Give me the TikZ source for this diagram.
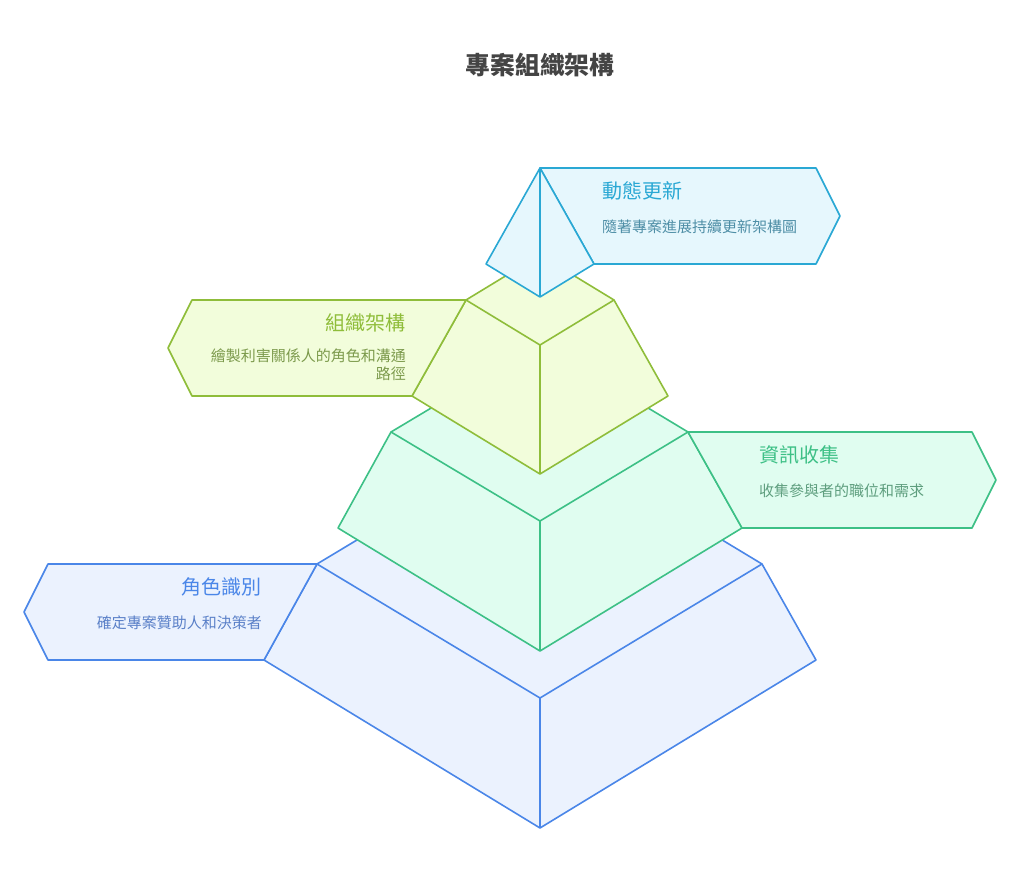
\documentclass[tikz,border=0pt]{standalone}
\usepackage{fontspec}
\setmainfont{Noto Sans CJK TC}
\definecolor{bstroke}{HTML}{4A86E8}
\definecolor{bfill}{HTML}{EBF2FE}
\definecolor{btext}{HTML}{5A80C8}
\definecolor{gstroke}{HTML}{3DC086}
\definecolor{gfill}{HTML}{E0FDF0}
\definecolor{gtext}{HTML}{5E9E7E}
\definecolor{lstroke}{HTML}{8FBD3A}
\definecolor{lfill}{HTML}{F2FDDB}
\definecolor{ltext}{HTML}{7C9A4C}
\definecolor{cstroke}{HTML}{2AA8D4}
\definecolor{cfill}{HTML}{E6F7FD}
\definecolor{ctext}{HTML}{4E8EA6}
\definecolor{titlegray}{HTML}{444444}
\tikzset{
  layer/.style={line width=1.6pt, line join=round},
  ttl/.style={inner sep=0pt, font=\fontsize{20}{22}\selectfont},
  dsc/.style={inner sep=0pt, font=\fontsize{15}{18}\selectfont, align=right},
}
\begin{document}
\begin{tikzpicture}[x=1pt,y=-1pt]
\useasboundingbox (0,0) rectangle (1020,877);
\node[font=\fontsize{24.8}{28}\selectfont\bfseries, text=titlegray, inner sep=0pt] (title) at (540,65) {專案組織架構};

% ---- Blue layer ----
\coordinate (bL) at (317,564); \coordinate (bB) at (540,430);
\coordinate (bR) at (762,564); \coordinate (bF) at (540,698);
\coordinate (bLB) at (264,660); \coordinate (bRB) at (816,660);
\coordinate (bBB) at (540,828);
\fill[bfill] (bL)--(bB)--(bR)--(bRB)--(bBB)--(bLB)--cycle;
\draw[layer, draw=bstroke] (bL)--(bB)--(bR)--(bRB)--(bBB)--(bLB)--cycle;
\draw[layer, draw=bstroke] (bL)--(bF)--(bR) (bF)--(bBB);
\draw[layer, draw=bstroke, fill=bfill] (bL)--(48,564)--(24,612)--(48,660)--(bLB)--cycle;
\node[ttl, text=bstroke, anchor=east] (bt) at (262,587) {角色識別};
\node[dsc, text=btext, anchor=east] (bd) at (262,623) {確定專案贊助人和決策者};

% ---- Green layer ----
\coordinate (gL) at (391,432); \coordinate (gB) at (540,343);
\coordinate (gR) at (688,432); \coordinate (gF) at (540,521);
\coordinate (gLB) at (338,528); \coordinate (gRB) at (742,528);
\coordinate (gBB) at (540,651);
\fill[gfill] (gL)--(gB)--(gR)--(gRB)--(gBB)--(gLB)--cycle;
\draw[layer, draw=gstroke] (gL)--(gB)--(gR)--(gRB)--(gBB)--(gLB)--cycle;
\draw[layer, draw=gstroke] (gL)--(gF)--(gR) (gF)--(gBB);
\draw[layer, draw=gstroke, fill=gfill] (gR)--(972,432)--(996,480)--(972,528)--(gRB)--cycle;
\node[ttl, text=gstroke, anchor=west] (gt) at (759,455) {資訊收集};
\node[dsc, text=gtext, anchor=west] (gd) at (759,491) {收集參與者的職位和需求};

% ---- Lime layer ----
\coordinate (lL) at (466,300); \coordinate (lB) at (540,255);
\coordinate (lR) at (614,300); \coordinate (lF) at (540,345);
\coordinate (lLB) at (412,396); \coordinate (lRB) at (668,396);
\coordinate (lBB) at (540,474);
\fill[lfill] (lL)--(lB)--(lR)--(lRB)--(lBB)--(lLB)--cycle;
\draw[layer, draw=lstroke] (lL)--(lB)--(lR)--(lRB)--(lBB)--(lLB)--cycle;
\draw[layer, draw=lstroke] (lL)--(lF)--(lR) (lF)--(lBB);
\draw[layer, draw=lstroke, fill=lfill] (lL)--(192,300)--(168,348)--(192,396)--(lLB)--cycle;
\node[ttl, text=lstroke, anchor=east] (lt) at (406,323) {組織架構};
\node[dsc, text=ltext, anchor=east] (ld) at (406,365) {繪製利害關係人的角色和溝通\\路徑};

% ---- Cyan pyramid ----
\coordinate (cA) at (540,168); \coordinate (cL) at (486,264);
\coordinate (cR) at (594,264); \coordinate (cF) at (540,297);
\draw[layer, draw=cstroke, fill=cfill] (cA)--(816,168)--(840,216)--(816,264)--(cR)--cycle;
\draw[layer, draw=cstroke, fill=cfill] (cA)--(cR)--(cF)--(cL)--cycle;
\draw[layer, draw=cstroke] (cA)--(cF);
\node[ttl, text=cstroke, anchor=west] (ct) at (602,191) {動態更新};
\node[dsc, text=ctext, anchor=west] (cd) at (602,227) {隨著專案進展持續更新架構圖};
\end{tikzpicture}
\end{document}
